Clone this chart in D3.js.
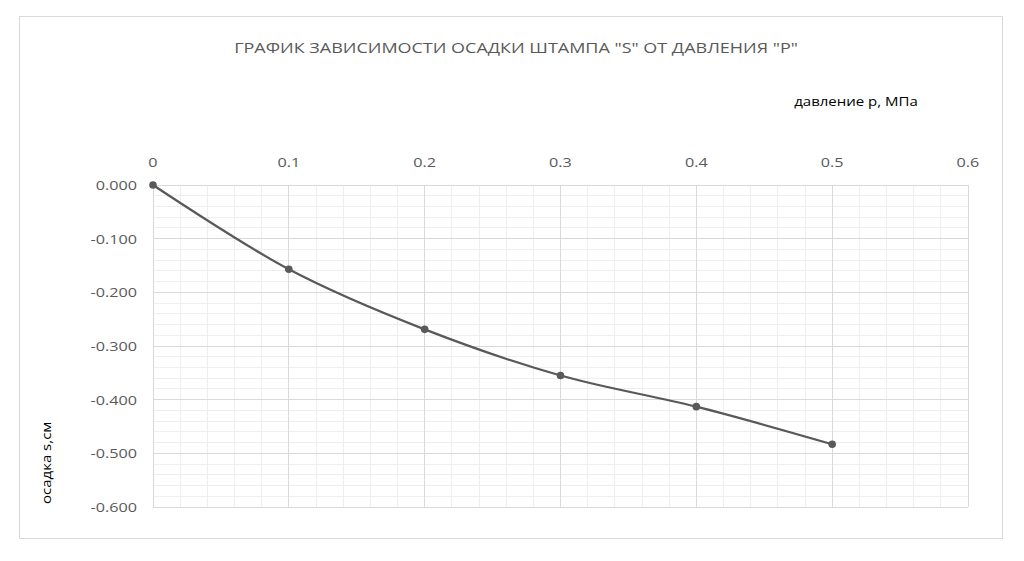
<!DOCTYPE html>
<html lang="ru">
<head>
    <meta charset="UTF-8">
    <title>График зависимости осадки штампа</title>
    <script src="https://d3js.org/d3.v7.min.js"></script>
    <style>
        body { margin: 0; background: #fff; }
        svg { display: block; font-family: "Open Sans", sans-serif; }
        .tick-label { fill: #595959; font-size: 13.5px; }
        .title { fill: #595959; font-size: 15px; }
        .axis-title { fill: #000; font-size: 12.5px; }
    </style>
</head>
<body>
<svg id="chart" width="1024" height="561"></svg>
<script>
    // данные: давление p (МПа) и осадка s (см)
    const pressure = [0, 0.1, 0.2, 0.3, 0.4, 0.5];
    const settlement = [0, -0.157, -0.269, -0.355, -0.413, -0.483];
    const xTicks = [0, 0.1, 0.2, 0.3, 0.4, 0.5, 0.6];
    const yTicks = [0, -0.1, -0.2, -0.3, -0.4, -0.5, -0.6];
    const titleText = 'ГРАФИК ЗАВИСИМОСТИ ОСАДКИ ШТАМПА "S" ОТ ДАВЛЕНИЯ "P"';
    const xTitle = "давление р, МПа";
    const yTitle = "осадка s,см";

    const svg = d3.select("#chart");
    const plot = {left: 153, right: 968, top: 185, bottom: 507};
    const stretch = 1.2; // текст в оригинале немного растянут по горизонтали

    const x = d3.scaleLinear().domain([0, 0.6]).range([plot.left, plot.right]);
    const y = d3.scaleLinear().domain([0, -0.6]).range([plot.top, plot.bottom]);

    function label(tx, cls, anchor, str, extra) {
        svg.append("g")
            .attr("transform", tx + (extra || "") + ` scale(${stretch},1)`)
            .append("text")
            .attr("class", cls)
            .attr("text-anchor", anchor)
            .text(str);
    }

    // рамка диаграммы
    svg.append("rect")
        .attr("x", 19.5).attr("y", 16.5)
        .attr("width", 983).attr("height", 522)
        .attr("fill", "#fff")
        .attr("stroke", "#d9d9d9");

    // мелкая сетка (шаг 0.02)
    const minorX = d3.range(0, 0.6001, 0.02).filter((d, i) => i % 5 !== 0);
    const minorY = d3.range(0, -0.6001, -0.02).filter((d, i) => i % 5 !== 0);
    const grid = svg.append("g").attr("shape-rendering", "crispEdges");
    grid.selectAll(".mx").data(minorX).enter().append("line")
        .attr("x1", d => x(d)).attr("x2", d => x(d))
        .attr("y1", plot.top).attr("y2", plot.bottom)
        .attr("stroke", "#eeeeee");
    grid.selectAll(".my").data(minorY).enter().append("line")
        .attr("x1", plot.left).attr("x2", plot.right)
        .attr("y1", d => y(d)).attr("y2", d => y(d))
        .attr("stroke", "#eeeeee");

    // основная сетка
    grid.selectAll(".gx").data(xTicks).enter().append("line")
        .attr("x1", d => x(d)).attr("x2", d => x(d))
        .attr("y1", plot.top).attr("y2", plot.bottom)
        .attr("stroke", "#d9d9d9");
    grid.selectAll(".gy").data(yTicks).enter().append("line")
        .attr("x1", plot.left).attr("x2", plot.right)
        .attr("y1", d => y(d)).attr("y2", d => y(d))
        .attr("stroke", "#d9d9d9");

    // подписи делений
    xTicks.forEach(d => label(`translate(${x(d)},167)`, "tick-label", "middle", d3.format("")(d)));
    yTicks.forEach(d => label(`translate(137,${y(d) + 5})`, "tick-label", "end",
        d3.format(".3f")(d).replace("−", "-")));

    // заголовки
    label("translate(516,53)", "title", "middle", titleText);
    label("translate(856,106)", "axis-title", "middle", xTitle);
    label("translate(51,504)", "axis-title", "start", yTitle, " rotate(-90)");

    // сглаженная линия
    const pts = pressure.map((p, i) => [p, settlement[i]]);
    const line = d3.line()
        .x(d => x(d[0])).y(d => y(d[1]))
        .curve(d3.curveCatmullRom.alpha(0.5));
    svg.append("path")
        .attr("d", line(pts))
        .attr("fill", "none")
        .attr("stroke", "#595959")
        .attr("stroke-width", 2.2);

    svg.selectAll(".pt").data(pts).enter().append("circle")
        .attr("cx", d => x(d[0])).attr("cy", d => y(d[1]))
        .attr("r", 3.8)
        .attr("fill", "#595959");
</script>
</body>
</html>
